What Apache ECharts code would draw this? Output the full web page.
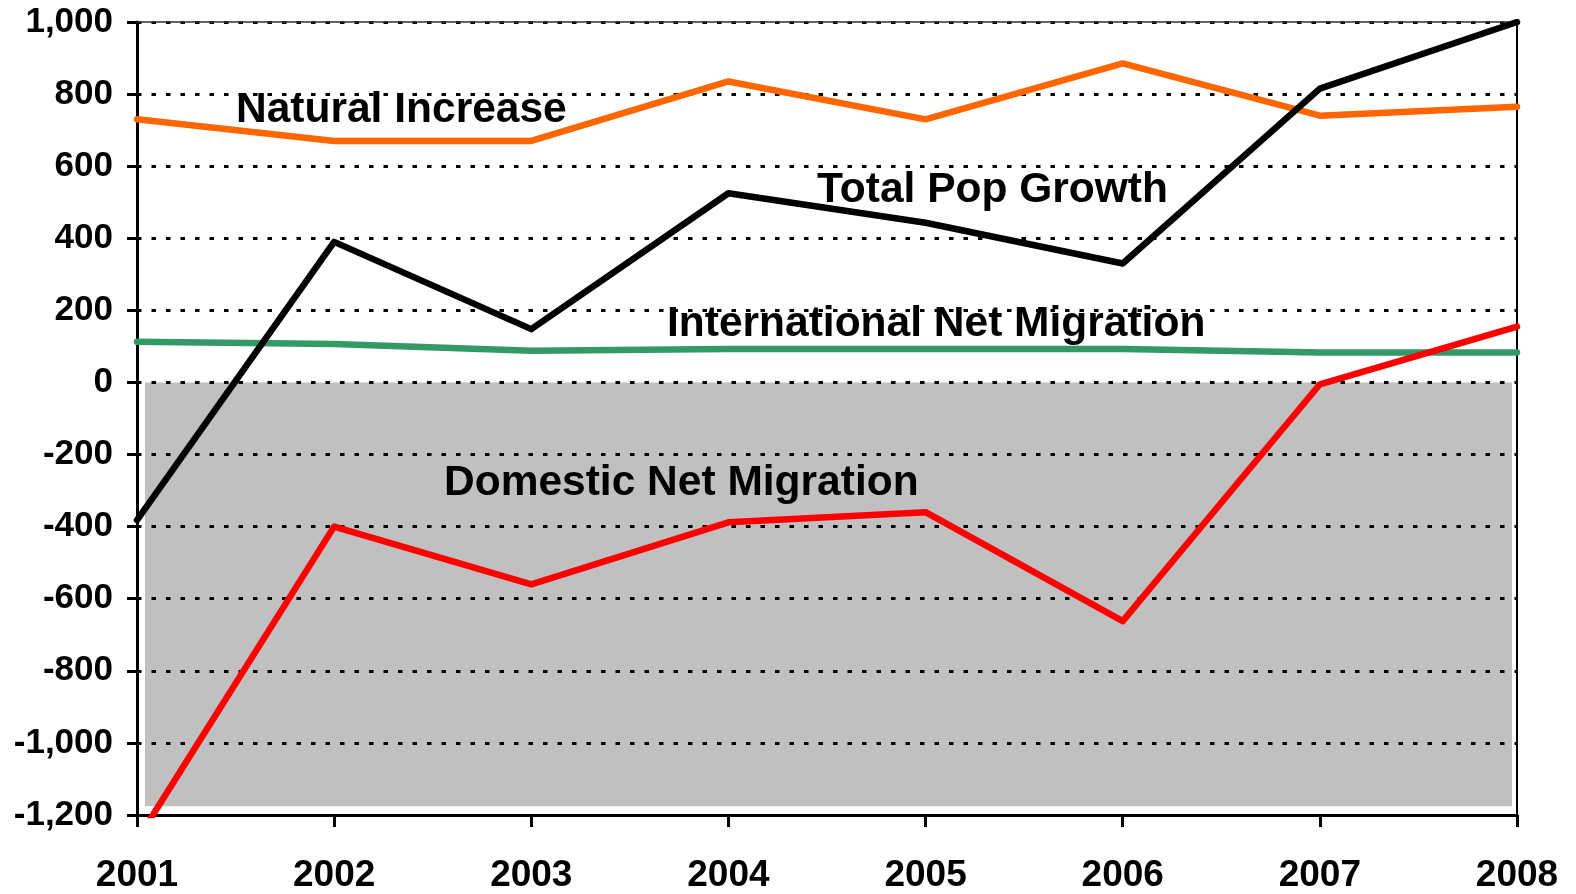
<!DOCTYPE html>
<html>
<head>
<meta charset="utf-8">
<script src="https://cdn.jsdelivr.net/npm/echarts@6/dist/echarts.min.js"></script>
<style>
html,body{margin:0;padding:0;background:#fff;}
#c{width:1576px;height:894px;}
</style>
</head>
<body>
<div id="c"></div>
<script>
const years = ['2001','2002','2003','2004','2005','2006','2007','2008'];
const naturalIncrease = [730, 670, 670, 835, 730, 885, 740, 765];
const totalPopGrowth = [-382, 390, 148, 525, 443, 330, 815, 1000];
const intlNetMigration = [113, 107, 88, 93, 93, 93, 83, 83];
const domesticNetMigration = [-1270, -400, -560, -388, -360, -662, -5, 155];
const yTicks = { min: -1200, max: 1000, interval: 200 };
const shadeRange = [0, -1176];

const FONT = '"Liberation Sans", Arial, Helvetica, sans-serif';
const chart = echarts.init(document.getElementById('c'), null, { renderer: 'canvas' });

function lineSeries(name, data, color, z) {
  return {
    name, type: 'line', data, showSymbol: false, symbol: 'none', z,
    lineStyle: { color, width: 6.5, cap: 'round', join: 'round' },
    clip: true
  };
}

const option = {
  animation: false,
  backgroundColor: '#ffffff',
  grid: { left: 137, right: 59, top: 22, bottom: 78 },
  xAxis: [{
    type: 'category', data: years, boundaryGap: false,
    axisLine: { onZero: false, lineStyle: { color: '#000', width: 3 } },
    axisTick: { alignWithLabel: true, length: 12, lineStyle: { color: '#000', width: 3 } },
    axisLabel: { fontSize: 37, fontWeight: 'bold', color: '#000', fontFamily: FONT, margin: 42 },
    splitLine: { show: false }
  }, {
    type: 'category', data: years, boundaryGap: false, position: 'top',
    axisLine: { onZero: false, lineStyle: { color: '#333', width: 1.5 } },
    axisTick: { show: false }, axisLabel: { show: false }, splitLine: { show: false }
  }],
  yAxis: [{
    type: 'value', min: yTicks.min, max: yTicks.max, interval: yTicks.interval,
    axisLine: { show: true, onZero: false, lineStyle: { color: '#000', width: 3 } },
    axisTick: { show: true, length: 10, lineStyle: { color: '#000', width: 3 } },
    axisLabel: {
      fontSize: 35, fontWeight: 'bold', color: '#000', fontFamily: FONT, margin: 24,
      formatter: v => v.toLocaleString('en-US')
    },
    splitLine: { show: true, lineStyle: { color: '#000', width: 3, type: [4.5, 10] } }
  }, {
    type: 'value', position: 'right', min: yTicks.min, max: yTicks.max, interval: yTicks.interval,
    axisLine: { show: true, onZero: false, lineStyle: { color: '#000', width: 2 } },
    axisTick: { show: false }, axisLabel: { show: false }, splitLine: { show: false }
  }],
  series: [
    lineSeries('International Net Migration', intlNetMigration, '#339966', 2),
    lineSeries('Natural Increase', naturalIncrease, '#FF6600', 3),
    lineSeries('Domestic Net Migration', domesticNetMigration, '#FF0000', 4),
    lineSeries('Total Pop Growth', totalPopGrowth, '#000000', 5)
  ]
};
chart.setOption(option);

const yTop = chart.convertToPixel({ yAxisIndex: 0 }, shadeRange[0]);
const yBot = chart.convertToPixel({ yAxisIndex: 0 }, shadeRange[1]);
const xL = chart.convertToPixel({ xAxisIndex: 0 }, 0) + 8;
const xR = chart.convertToPixel({ xAxisIndex: 0 }, years.length - 1) - 5;

function label(text, x, y) {
  return {
    type: 'text', x, y, z: 100, silent: true,
    style: { text, fill: '#000', fontSize: 42.5, fontWeight: 'bold', fontFamily: FONT, align: 'left', verticalAlign: 'middle' }
  };
}

chart.setOption({
  graphic: [
    { type: 'rect', z: -10, silent: true, shape: { x: xL, y: yTop, width: xR - xL, height: yBot - yTop }, style: { fill: '#C0C0C0' } },
    label('Natural Increase', 236, 110),
    label('Total Pop Growth', 817, 190),
    label('International Net Migration', 667, 324),
    label('Domestic Net Migration', 444, 483)
  ]
});
</script>
</body>
</html>
